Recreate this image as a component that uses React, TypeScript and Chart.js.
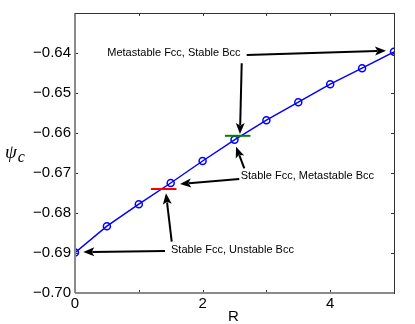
import { useEffect, useRef } from 'react';
import { Chart, registerables } from 'chart.js';

Chart.register(...registerables);

const rValues = [0, 0.5, 1, 1.5, 2, 2.5, 3, 3.5, 4, 4.5, 5];
const psiValues = [-0.6899, -0.6833, -0.6778, -0.6725, -0.667, -0.6617, -0.6568, -0.6523, -0.6478, -0.6438, -0.6397];

const redMarkX = [1.19, 1.59];
const redMarkY = [-0.674, -0.674];
const greenMarkX = [2.35, 2.75];
const greenMarkY = [-0.6607, -0.6607];

const xRange = [0, 5];
const yRange = [-0.7, -0.63];
const xTickValues = [0, 2, 4];
const yTickValues = [-0.7, -0.69, -0.68, -0.67, -0.66, -0.65, -0.64];
const xTickMarks = [0, 1, 2, 3, 4, 5];
const yTickMarks = [-0.7, -0.69, -0.68, -0.67, -0.66, -0.65, -0.64, -0.63];

const xTitle = 'R';
const yTitleMain = 'ψ';
const yTitleSub = 'c';

const noteTexts = ['Metastable Fcc, Stable Bcc', 'Stable Fcc, Metastable Bcc', 'Stable Fcc, Unstable Bcc'];
const noteX = [0.506, 2.597, 1.505];
const noteY = [-0.6401, -0.6707, -0.68925];

const arrowFromX = [2.691, 2.613, 2.575, 2.654, 1.516, 1.411];
const arrowFromY = [-0.6405, -0.64258, -0.6715, -0.66883, -0.68718, -0.6895];
const arrowToX = [4.875, 2.586, 1.646, 2.524, 1.426, 0.13];
const arrowToY = [-0.63943, -0.66025, -0.67275, -0.66343, -0.67508, -0.68975];

const SANS = '"Liberation Sans", Arial, Helvetica, sans-serif';

function fmt(v: number) {
  return (v < 0 ? '\u2212' : '') + Math.abs(v).toFixed(2);
}

const overlayPlugin = {
  id: 'overlay',
  afterDraw(chart: any) {
    const ctx = chart.ctx as CanvasRenderingContext2D;
    const { left, right, top, bottom } = chart.chartArea;
    const xs = chart.scales.x;
    const ys = chart.scales.y;
    ctx.save();

    // inward tick marks
    ctx.strokeStyle = '#333';
    ctx.lineWidth = 1;
    ctx.beginPath();
    xTickMarks.forEach((v) => {
      const px = Math.round(xs.getPixelForValue(v)) + 0.5;
      ctx.moveTo(px, bottom);
      ctx.lineTo(px, bottom - 3);
      ctx.moveTo(px, top);
      ctx.lineTo(px, top + 3);
    });
    yTickMarks.forEach((v) => {
      const py = Math.round(ys.getPixelForValue(v)) + 0.5;
      ctx.moveTo(left, py);
      ctx.lineTo(left + 3, py);
      ctx.moveTo(right, py);
      ctx.lineTo(right - 3, py);
    });
    ctx.stroke();

    // box
    ctx.fillStyle = '#8a8a8a';
    ctx.fillRect(left - 1, top, 2, bottom - top);
    ctx.fillRect(left, bottom - 1, right - left, 2);
    ctx.fillStyle = '#333';
    ctx.fillRect(left, top, right - left, 1);
    ctx.fillRect(right, top, 1, bottom - top + 1);

    // arrows
    ctx.strokeStyle = '#000';
    ctx.fillStyle = '#000';
    ctx.lineWidth = 2;
    for (let i = 0; i < arrowFromX.length; i++) {
      const x1 = xs.getPixelForValue(arrowFromX[i]);
      const y1 = ys.getPixelForValue(arrowFromY[i]);
      const x2 = xs.getPixelForValue(arrowToX[i]);
      const y2 = ys.getPixelForValue(arrowToY[i]);
      const ang = Math.atan2(y2 - y1, x2 - x1);
      const hl = 11;
      const hw = 4.5;
      const bx = x2 - hl * Math.cos(ang);
      const by = y2 - hl * Math.sin(ang);
      ctx.beginPath();
      ctx.moveTo(x1, y1);
      ctx.lineTo(bx + 2 * Math.cos(ang), by + 2 * Math.sin(ang));
      ctx.stroke();
      ctx.beginPath();
      ctx.moveTo(x2, y2);
      ctx.lineTo(bx - hw * Math.sin(ang), by + hw * Math.cos(ang));
      ctx.lineTo(bx + 2.5 * Math.cos(ang), by + 2.5 * Math.sin(ang));
      ctx.lineTo(bx + hw * Math.sin(ang), by - hw * Math.cos(ang));
      ctx.closePath();
      ctx.fill();
    }

    // notes
    ctx.font = '11px ' + SANS;
    ctx.textAlign = 'left';
    ctx.textBaseline = 'middle';
    ctx.fillStyle = '#000';
    noteTexts.forEach((t, i) => {
      ctx.fillText(t, xs.getPixelForValue(noteX[i]), ys.getPixelForValue(noteY[i]));
    });

    // axis titles
    ctx.font = '15px ' + SANS;
    ctx.textAlign = 'center';
    ctx.textBaseline = 'middle';
    ctx.fillText(xTitle, (left + right) / 2 - 1, 317);

    ctx.textAlign = 'left';
    ctx.textBaseline = 'alphabetic';
    ctx.font = 'italic 19px "Liberation Serif", "Times New Roman", serif';
    ctx.fillText(yTitleMain, 5, 158);
    const w = ctx.measureText(yTitleMain).width;
    ctx.font = 'italic 16px "Liberation Serif", "Times New Roman", serif';
    ctx.fillText(yTitleSub, 5 + w + 1, 162);

    ctx.restore();
  },
};

export default function App() {
  const ref = useRef<HTMLCanvasElement | null>(null);

  useEffect(() => {
    if (!ref.current) return;
    const chart = new Chart(ref.current, {
      type: 'line',
      data: {
        datasets: [
          {
            data: redMarkX.map((x, i) => ({ x, y: redMarkY[i] })),
            borderColor: '#ff0000',
            borderWidth: 2,
            pointRadius: 0,
          },
          {
            data: greenMarkX.map((x, i) => ({ x, y: greenMarkY[i] })),
            borderColor: '#008000',
            borderWidth: 2,
            pointRadius: 0,
          },
          {
            data: rValues.map((x, i) => ({ x, y: psiValues[i] })),
            borderColor: '#0000ff',
            borderWidth: 1.5,
            pointRadius: 3.5,
            pointBorderWidth: 1.5,
            pointBorderColor: '#0000ff',
            pointBackgroundColor: 'rgba(0,0,0,0)',
            tension: 0,
          },
        ],
      },
      options: {
        animation: false,
        responsive: false,
        events: [],
        layout: { padding: { left: 0, top: 13, right: 21, bottom: 0 } },
        plugins: { legend: { display: false }, tooltip: { enabled: false } },
        scales: {
          x: {
            type: 'linear',
            min: xRange[0],
            max: xRange[1],
            afterBuildTicks: (s: any) => {
              s.ticks = xTickValues.map((value) => ({ value }));
            },
            afterFit: (s: any) => {
              s.height = 31;
            },
            grid: { display: false, drawTicks: false },
            border: { display: false },
            ticks: {
              padding: 2,
              color: '#000',
              font: { family: SANS, size: 15 },
              maxRotation: 0,
              callback: (v: any) => String(v),
            },
          },
          y: {
            type: 'linear',
            min: yRange[0],
            max: yRange[1],
            afterBuildTicks: (s: any) => {
              s.ticks = yTickValues.map((value) => ({ value }));
            },
            afterFit: (s: any) => {
              s.width = 75;
            },
            grid: { display: false, drawTicks: false },
            border: { display: false },
            ticks: {
              padding: 4,
              color: '#000',
              font: { family: SANS, size: 15 },
              callback: (v: any) => fmt(Number(v)),
            },
          },
        },
      },
      plugins: [overlayPlugin],
    });
    return () => chart.destroy();
  }, []);

  return (
    <div style={{ position: 'fixed', left: 0, top: 0, width: 415, height: 324, background: '#fff' }}>
      <canvas ref={ref} width={415} height={324} />
    </div>
  );
}
